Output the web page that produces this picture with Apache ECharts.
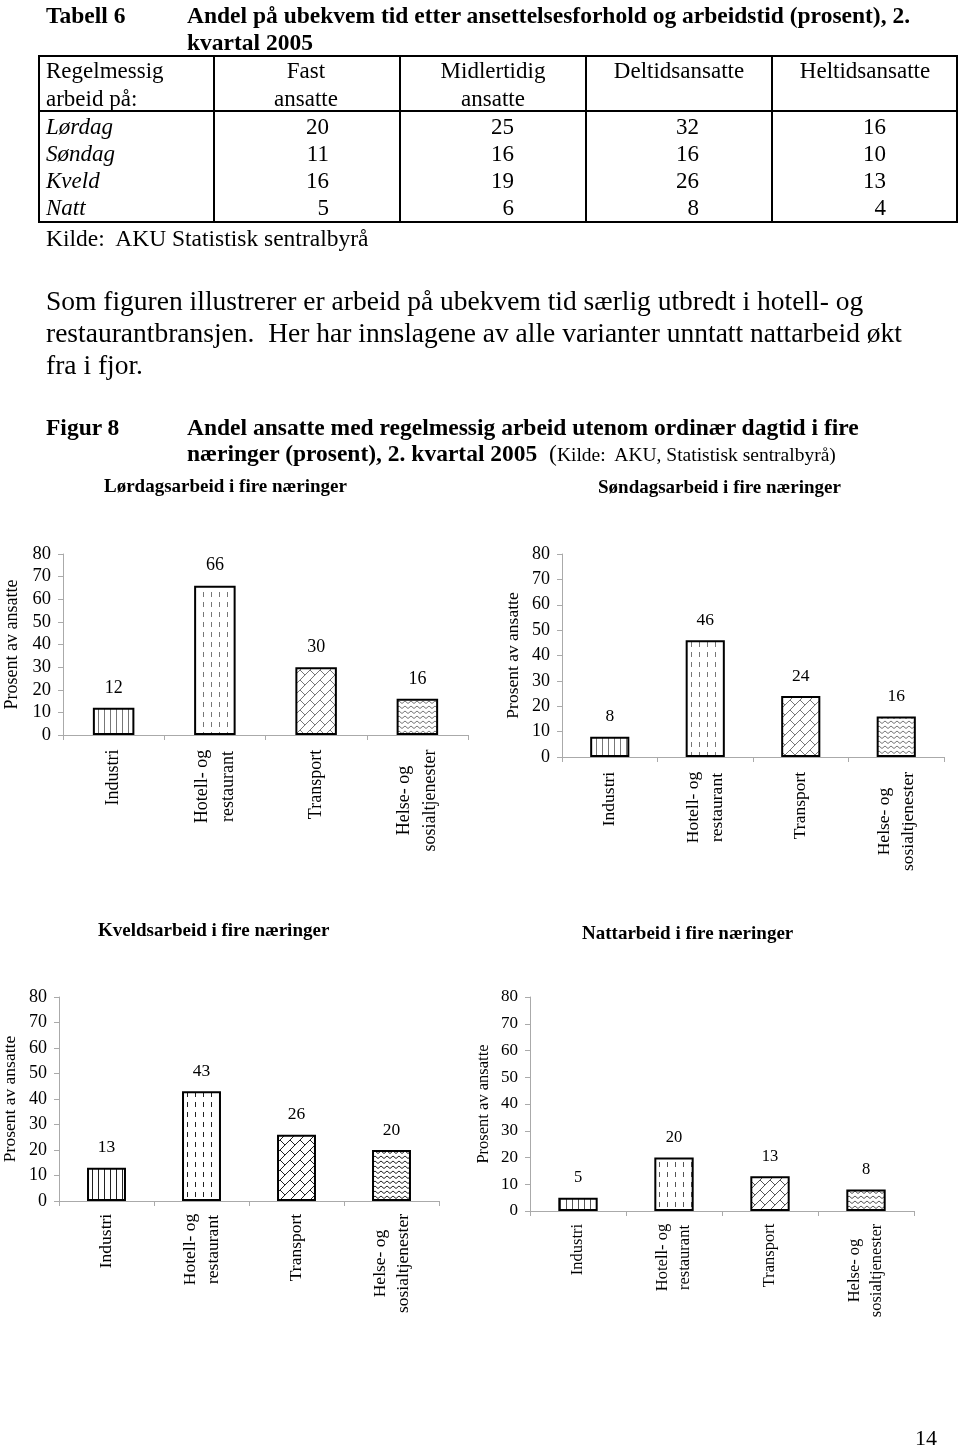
<!DOCTYPE html>
<html>
<head>
<meta charset="utf-8">
<script src="https://cdn.jsdelivr.net/npm/echarts@6.0.0/dist/echarts.min.js"></script>
<style>
  body { margin: 0; background: #fff; }
  #page { position: relative; width: 960px; height: 1449px; font-family: "Liberation Serif", "Times New Roman", serif; color: #000; overflow: hidden; }
  #chart { position: absolute; left: 0; top: 0; width: 960px; height: 1449px; }
  .t { position: absolute; white-space: pre; z-index: 2; }
  .ln { position: absolute; background: #000; z-index: 2; }
</style>
</head>
<body>
<div id="page">
  <div id="chart"></div>
</div>
<script>
// tabell 6
const tableRows = ['Lørdag', 'Søndag', 'Kveld', 'Natt'];
const fast = [20, 11, 16, 5];
const midlertidig = [25, 16, 19, 6];
const deltid = [32, 16, 26, 8];
const heltid = [16, 10, 13, 4];

// figur 8
const categories = ['Industri', 'Hotell- og\nrestaurant', 'Transport', 'Helse- og\nsosialtjenester'];
const lordag = [12, 66, 30, 16];
const sondag = [8, 46, 24, 16];
const kveld = [13, 43, 26, 20];
const natt = [5, 20, 13, 8];

const page = document.getElementById('page');

function addText(txt, x, yc, size, opts) {
  opts = opts || {};
  const d = document.createElement('div');
  d.className = 't';
  d.style.fontSize = size + 'px';
  d.style.lineHeight = (size * 1.2) + 'px';
  d.style.top = (yc - size * 0.6) + 'px';
  if (opts.align === 'right') {
    d.style.right = (960 - x) + 'px';
  } else if (opts.align === 'center') {
    d.style.left = (x - 150) + 'px';
    d.style.width = '300px';
    d.style.textAlign = 'center';
  } else {
    d.style.left = x + 'px';
  }
  if (opts.bold) d.style.fontWeight = 'bold';
  if (opts.italic) d.style.fontStyle = 'italic';
  if (opts.html) d.innerHTML = txt; else d.textContent = txt;
  page.appendChild(d);
  return d;
}

function addLine(x, y, w, h) {
  const d = document.createElement('div');
  d.className = 'ln';
  d.style.left = x + 'px';
  d.style.top = y + 'px';
  d.style.width = w + 'px';
  d.style.height = h + 'px';
  page.appendChild(d);
}

// tittel
addText('Tabell 6', 46, 15, 23.5, { bold: true });
addText('Andel på ubekvem tid etter ansettelsesforhold og arbeidstid (prosent), 2.', 187, 15, 23.5, { bold: true });
addText('kvartal 2005', 187, 42, 23.5, { bold: true });

// tabell-linjer
addLine(38, 55, 920, 2);
addLine(38, 221, 920, 2);
addLine(38, 55, 2, 168);
addLine(956, 55, 2, 168);
addLine(38, 110, 920, 2);
[213, 399, 585, 771].forEach(x => addLine(x, 55, 2, 168));

// header
addText('Regelmessig', 46, 71, 23);
addText('arbeid på:', 46, 99, 23);
addText('Fast', 306, 71, 23, { align: 'center' });
addText('ansatte', 306, 99, 23, { align: 'center' });
addText('Midlertidig', 493, 71, 23, { align: 'center' });
addText('ansatte', 493, 99, 23, { align: 'center' });
addText('Deltidsansatte', 679, 71, 23, { align: 'center' });
addText('Heltidsansatte', 865, 71, 23, { align: 'center' });

const rowY = [127, 154, 181, 208];
const cols = [[fast, 329], [midlertidig, 514], [deltid, 699], [heltid, 886]];
tableRows.forEach((r, i) => {
  addText(r, 46, rowY[i], 23, { italic: true });
  cols.forEach(c => addText(String(c[0][i]), c[1], rowY[i], 23, { align: 'right' }));
});
addText('Kilde:  AKU Statistisk sentralbyrå', 46, 238, 23.5);

// avsnitt
addText('Som figuren illustrerer er arbeid på ubekvem tid særlig utbredt i hotell- og', 46, 300, 27.5);
addText('restaurantbransjen.  Her har innslagene av alle varianter unntatt nattarbeid økt', 46, 332, 27.5);
addText('fra i fjor.', 46, 364, 27.5);

addText('Figur 8', 46, 427, 23.5, { bold: true });
addText('Andel ansatte med regelmessig arbeid utenom ordinær dagtid i fire', 187, 427, 23.5, { bold: true });
addText('<b>næringer (prosent), 2. kvartal 2005</b>  <span style="font-size:23.5px">(</span><span style="font-size:19.5px">Kilde:  AKU, Statistisk sentralbyrå)</span>', 187, 453, 23.5, { html: true });

addText('14', 915, 1438, 22);

// mønstre
function makeTile(w, h, draw) {
  const c = document.createElement('canvas');
  c.width = w;
  c.height = h;
  const ctx = c.getContext('2d');
  ctx.fillStyle = '#fff';
  ctx.fillRect(0, 0, w, h);
  ctx.lineWidth = 1;
  draw(ctx);
  return c;
}

function patVertical(ink) {
  return makeTile(6, 6, ctx => {
    ctx.strokeStyle = ink;
    ctx.beginPath();
    ctx.moveTo(2.5, 0); ctx.lineTo(2.5, 6);
    ctx.stroke();
  });
}

function patDashed(ink) {
  return makeTile(8, 10, ctx => {
    ctx.strokeStyle = ink;
    ctx.beginPath();
    ctx.moveTo(3.5, 2); ctx.lineTo(3.5, 7);
    ctx.stroke();
  });
}

function patBrick(ink) {
  return makeTile(20, 20, ctx => {
    ctx.strokeStyle = ink;
    ctx.beginPath();
    for (let u = -40; u <= 80; u += 10) {
      ctx.moveTo(u + 40, -40); ctx.lineTo(-40, u + 40);
    }
    for (let k = -4; k <= 8; k++) {
      const u = k * 10;
      const off = (((k % 2) + 2) % 2) * 10;
      for (let v = -60 + off; v <= 60; v += 20) {
        ctx.moveTo((u + v) / 2, (u - v) / 2);
        ctx.lineTo((u + 10 + v) / 2, (u + 10 - v) / 2);
      }
    }
    ctx.stroke();
  });
}

function patWave(ink) {
  return makeTile(6, 5, ctx => {
    ctx.strokeStyle = ink;
    ctx.beginPath();
    ctx.moveTo(0, 3.5); ctx.lineTo(3, 1); ctx.lineTo(6, 3.5);
    ctx.stroke();
  });
}

const measure = document.createElement('canvas').getContext('2d');
function textW(s, fs) {
  measure.font = fs + 'px "Liberation Serif"';
  return Math.ceil(measure.measureText(s).width) + 1;
}

const panels = [
  { title: 'Lørdagsarbeid i fire næringer', tx: 104, ty: 489, data: lordag,
    grid: { left: 63, top: 554, width: 405, height: 181 }, fs: 18, nameGap: 42, catMargin: 14, lh: 26, ink: '#777' },
  { title: 'Søndagsarbeid i fire næringer', tx: 598, ty: 490, data: sondag,
    grid: { left: 562, top: 554, width: 382, height: 203 }, fs: 17.5, nameGap: 40, catMargin: 14, lh: 24, ink: '#777' },
  { title: 'Kveldsarbeid i fire næringer', tx: 98, ty: 933, data: kveld,
    grid: { left: 58, top: 997, width: 381, height: 204 }, fs: 17.5, nameGap: 40, catMargin: 12, lh: 23, ink: '#222' },
  { title: 'Nattarbeid i fire næringer', tx: 582, ty: 936, data: natt,
    grid: { left: 530, top: 997, width: 384, height: 214 }, fs: 16.5, nameGap: 38, catMargin: 12, lh: 22, ink: '#555' }
];

const font = '"Liberation Serif", "Times New Roman", serif';
const option = { animation: false, title: [], grid: [], xAxis: [], yAxis: [], series: [] };

panels.forEach((p, i) => {
  const fills = [patVertical(p.ink), patDashed(p.ink), patBrick(p.ink), patWave(p.ink)];
  const rich = {};
  categories.forEach((c, j) => {
    const w = Math.max.apply(null, c.split('\n').map(s => textW(s, p.fs)));
    rich['c' + j] = { width: w, align: 'center', fontSize: p.fs, fontFamily: font, color: '#000', lineHeight: p.lh };
  });

  option.title.push({
    text: p.title, left: p.tx, top: p.ty - 11, padding: 0,
    textStyle: { fontFamily: font, fontWeight: 'bold', fontSize: 19, color: '#000' }
  });
  option.grid.push(Object.assign({ containLabel: false }, p.grid));
  option.xAxis.push({
    type: 'category', gridIndex: i, data: categories,
    axisLine: { lineStyle: { color: '#aaa', width: 1 } },
    axisTick: { show: true, length: 5, lineStyle: { color: '#aaa' } },
    axisLabel: {
      rotate: 90, margin: p.catMargin, interval: 0,
      formatter: (v, idx) => v.split('\n').map(s => '{c' + idx + '|' + s + '}').join('\n'),
      rich: rich
    }
  });
  option.yAxis.push({
    type: 'value', gridIndex: i, min: 0, max: 80, interval: 10,
    name: 'Prosent av ansatte', nameLocation: 'middle', nameGap: p.nameGap, nameRotate: 90,
    nameTextStyle: { fontFamily: font, fontSize: p.fs, color: '#000' },
    axisLine: { show: true, lineStyle: { color: '#aaa', width: 1 } },
    axisTick: { show: true, length: 5, lineStyle: { color: '#aaa' } },
    splitLine: { show: false },
    axisLabel: { fontFamily: font, fontSize: p.fs + 0.5, color: '#000', margin: 12 }
  });
  option.series.push({
    type: 'bar', xAxisIndex: i, yAxisIndex: i, barWidth: '41%',
    data: p.data.map((v, j) => ({
      value: v,
      itemStyle: { color: { image: fills[j], repeat: 'repeat' }, borderColor: '#000', borderWidth: 2 }
    })),
    label: { show: true, position: 'top', distance: 11, fontFamily: font, fontSize: p.fs, color: '#000' },
    emphasis: { disabled: true }
  });
});

const chart = echarts.init(document.getElementById('chart'));
chart.setOption(option);
</script>
</body>
</html>
